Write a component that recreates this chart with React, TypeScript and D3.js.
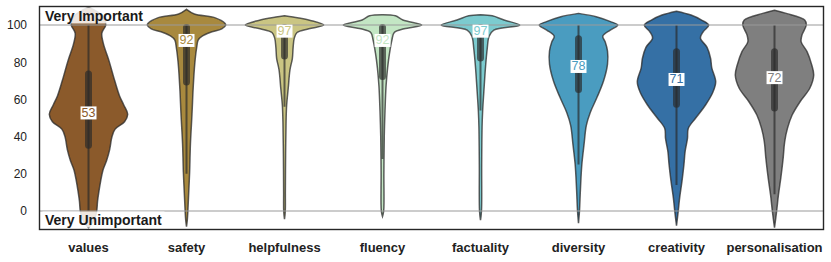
import { useEffect, useRef } from 'react';
import * as d3 from 'd3';

// categories and palette
const categories = ['values', 'safety', 'helpfulness', 'fluency', 'factuality', 'diversity', 'creativity', 'personalisation'];
const colors = ['#8b5a2b', '#a8893e', '#cac583', '#c3e6c4', '#7ccbcf', '#4a9cc0', '#3570a5', '#7f7f7f'];

// box summary
const medians = [53, 92, 97, 92, 97, 78, 71, 72];
const q1 = [34, 68, 82, 71, 81, 64, 56, 54];
const q3 = [75, 100, 100, 100, 100, 94, 87, 87];
const whiskerLow = [0, 20, 56, 28, 54, 25, 14, 9];
const whiskerHigh = [100, 100, 100, 100, 100, 100, 100, 100];

const yTicks = [0, 20, 40, 60, 80, 100];
const refLines = [0, 100];

// density profiles: [score, relative width]
const valuesDensity = [[109.5, 0], [107, 0.24], [104, 0.4], [100, 0.44], [95.7, 0.34], [90, 0.38], [81, 0.52], [70, 0.67], [62, 0.79], [57, 0.9], [52, 1.0], [48, 0.92], [44, 0.68], [40, 0.6], [33, 0.54], [27, 0.46], [22, 0.37], [16, 0.31], [11, 0.27], [5, 0.23], [0, 0.21], [-4, 0.16], [-7, 0.08], [-9, 0]];
const safetyDensity = [[108.5, 0], [106, 0.2], [104, 0.72], [101, 0.98], [100, 1.0], [98, 0.9], [96, 0.6], [94, 0.4], [92, 0.3], [88, 0.26], [79, 0.21], [66, 0.17], [52, 0.14], [36, 0.1], [21, 0.08], [7, 0.05], [0, 0.035], [-5, 0.02], [-8.5, 0]];
const helpfulnessDensity = [[105, 0], [104.3, 0.22], [102.5, 0.66], [100, 1.0], [98, 0.62], [96, 0.32], [93, 0.25], [88, 0.22], [82, 0.2], [76, 0.14], [66, 0.095], [57, 0.055], [48, 0.04], [30, 0.028], [10, 0.022], [0, 0.02], [-4.5, 0]];
const fluencyDensity = [[105.6, 0], [105, 0.33], [102.7, 0.52], [100, 1.0], [98, 0.55], [96, 0.3], [92, 0.24], [85, 0.18], [77, 0.13], [67, 0.09], [54, 0.064], [40, 0.045], [20, 0.035], [0, 0.03], [-3, 0]];
const factualityDensity = [[105.6, 0], [105, 0.3], [102.7, 0.6], [100, 1.0], [97.3, 0.34], [94, 0.22], [87, 0.17], [78, 0.13], [67, 0.094], [54, 0.055], [45, 0.04], [25, 0.03], [0, 0.025], [-5, 0]];
const diversityDensity = [[106.3, 0], [104.5, 0.45], [102, 0.8], [100, 1.0], [97.3, 0.81], [94, 0.62], [91, 0.68], [86, 0.74], [79, 0.74], [70, 0.64], [61, 0.47], [53, 0.3], [46, 0.2], [35.5, 0.14], [25, 0.085], [12, 0.05], [0, 0.025], [-6.6, 0]];
const creativityDensity = [[107.5, 0], [105.4, 0.37], [102.7, 0.64], [100, 0.82], [96.4, 0.68], [93, 0.61], [88, 0.78], [82, 0.87], [77, 0.9], [69.5, 1.0], [64, 0.93], [57, 0.74], [50, 0.49], [44.4, 0.3], [39, 0.28], [32, 0.22], [25, 0.19], [16, 0.14], [7, 0.08], [0, 0.045], [-8, 0]];
const personalisationDensity = [[108, 0], [106.3, 0.3], [102.7, 0.77], [100, 0.81], [94.6, 0.7], [91, 0.68], [85.7, 0.83], [78.5, 0.95], [73, 1.0], [66, 0.9], [59, 0.66], [51.6, 0.45], [44.4, 0.33], [37.3, 0.26], [28.3, 0.22], [17.6, 0.16], [8.6, 0.1], [0, 0.055], [-9, 0]];

const densities = [valuesDensity, safetyDensity, helpfulnessDensity, fluencyDensity, factualityDensity, diversityDensity, creativityDensity, personalisationDensity];

export default function App() {
  const ref = useRef<SVGSVGElement>(null);

  useEffect(() => {
    if (!ref.current) return;
    const svg = d3.select(ref.current);
    svg.selectAll('*').remove();

    const width = 831;
    const height = 262;
    const left = 39.5, right = 823.5, top = 6.5, bottom = 229.5;

    const x = d3.scaleBand<string>().domain(categories).range([left, right]).padding(0);
    const y = d3.scaleLinear().domain([-10, 110]).range([bottom, top]);
    const w = d3.scaleLinear().domain([0, 1]).range([0, x.bandwidth() * 0.4]);
    const font = '"Liberation Sans", Arial, sans-serif';

    svg.attr('width', width).attr('height', height);

    svg.append('defs').append('clipPath').attr('id', 'plot-clip')
      .append('rect').attr('x', left).attr('y', top).attr('width', right - left).attr('height', bottom - top);

    const plot = svg.append('g').attr('clip-path', 'url(#plot-clip)');

    // violins
    categories.forEach((cat, i) => {
      const cx = x(cat)! + x.bandwidth() / 2;
      const area = d3.area<number[]>()
        .y(d => y(d[0]))
        .x0(d => cx - w(d[1]))
        .x1(d => cx + w(d[1]))
        .curve(d3.curveCatmullRom.alpha(0.5));

      plot.append('path')
        .attr('d', area(densities[i]))
        .attr('fill', colors[i])
        .attr('stroke', '#2a2a2a')
        .attr('stroke-opacity', 0.75)
        .attr('stroke-width', 1.5);

      // inner box
      plot.append('line')
        .attr('x1', cx).attr('x2', cx)
        .attr('y1', y(whiskerHigh[i])).attr('y2', y(whiskerLow[i]))
        .attr('stroke', '#2a2a2a')
        .attr('stroke-opacity', 0.68)
        .attr('stroke-width', 2);

      plot.append('line')
        .attr('x1', cx).attr('x2', cx)
        .attr('y1', y(q3[i]) + 2.5).attr('y2', y(q1[i]) - 2.5)
        .attr('stroke', '#2a2a2a')
        .attr('stroke-opacity', 0.68)
        .attr('stroke-width', 7)
        .attr('stroke-linecap', 'round');
    });

    // reference lines
    refLines.forEach(v => {
      plot.append('line')
        .attr('x1', left).attr('x2', right)
        .attr('y1', y(v)).attr('y2', y(v))
        .attr('stroke', '#9a9a9a')
        .attr('stroke-opacity', 0.5)
        .attr('stroke-width', 2);
    });

    // median labels
    categories.forEach((cat, i) => {
      const cx = x(cat)! + x.bandwidth() / 2;
      const g = svg.append('g');
      const bg = g.append('rect').attr('fill', 'white');
      const t = g.append('text')
        .attr('x', cx)
        .attr('y', y(medians[i]))
        .attr('dy', '0.36em')
        .attr('text-anchor', 'middle')
        .attr('font-family', font)
        .attr('font-size', 12.5)
        .attr('fill', colors[i])
        .text(medians[i]);
      const b = (t.node() as SVGTextElement).getBBox();
      bg.attr('x', b.x - 1).attr('y', b.y + 0.5).attr('width', b.width + 2).attr('height', b.height - 1);
    });

    // corner annotations
    const notes: Array<[string, number]> = [['Very Important', 20.5], ['Very Unimportant', 224.5]];
    notes.forEach(([label, baseline]) => {
      const g = svg.append('g');
      const bg = g.append('rect').attr('fill', 'white').attr('fill-opacity', 0.85);
      const t = g.append('text')
        .attr('x', 45)
        .attr('y', baseline)
        .attr('font-family', font)
        .attr('font-size', 14)
        .attr('font-weight', 'bold')
        .attr('fill', '#1a1a1a')
        .text(label);
      const b = (t.node() as SVGTextElement).getBBox();
      bg.attr('x', b.x - 2.5).attr('y', b.y).attr('width', b.width + 5).attr('height', b.height);
    });

    // y tick labels
    svg.append('g').selectAll('text')
      .data(yTicks)
      .enter()
      .append('text')
      .attr('x', 27)
      .attr('y', d => y(d))
      .attr('dy', '0.36em')
      .attr('text-anchor', 'end')
      .attr('font-family', font)
      .attr('font-size', 12)
      .attr('fill', '#222')
      .text(d => d);

    // x labels
    svg.append('g').selectAll('text')
      .data(categories)
      .enter()
      .append('text')
      .attr('x', d => x(d)! + x.bandwidth() / 2)
      .attr('y', 251.5)
      .attr('text-anchor', 'middle')
      .attr('font-family', font)
      .attr('font-size', 13)
      .attr('font-weight', 'bold')
      .attr('fill', '#222')
      .text(d => d);

    // frame
    svg.append('rect')
      .attr('x', left).attr('y', top)
      .attr('width', right - left).attr('height', bottom - top)
      .attr('fill', 'none')
      .attr('stroke', '#262626')
      .attr('stroke-width', 1.4);
  }, []);

  return <svg ref={ref} style={{ position: 'absolute', left: 0, top: 0, display: 'block' }} />;
}
